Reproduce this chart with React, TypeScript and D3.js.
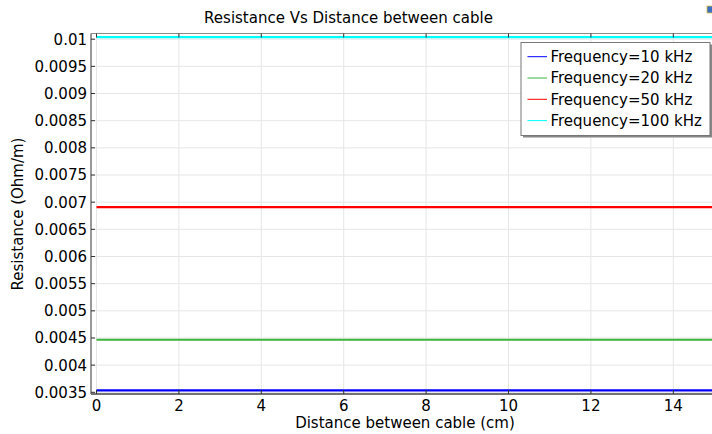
import React from "react";
import * as d3 from "d3";

const distance = [0, 1, 2, 3, 4, 5, 6, 7, 8, 9, 10, 11, 12, 13, 14, 15];
const r10k = [0.003537, 0.003537, 0.003537, 0.003537, 0.003537, 0.003537, 0.003537, 0.003537, 0.003537, 0.003537, 0.003537, 0.003537, 0.003537, 0.003537, 0.003537, 0.003537];
const r20k = [0.004468, 0.004468, 0.004468, 0.004468, 0.004468, 0.004468, 0.004468, 0.004468, 0.004468, 0.004468, 0.004468, 0.004468, 0.004468, 0.004468, 0.004468, 0.004468];
const r50k = [0.006909, 0.006909, 0.006909, 0.006909, 0.006909, 0.006909, 0.006909, 0.006909, 0.006909, 0.006909, 0.006909, 0.006909, 0.006909, 0.006909, 0.006909, 0.006909];
const r100k = [0.01004, 0.01004, 0.01004, 0.01004, 0.01004, 0.01004, 0.01004, 0.01004, 0.01004, 0.01004, 0.01004, 0.01004, 0.01004, 0.01004, 0.01004, 0.01004];
const seriesNames = ["Frequency=10 kHz", "Frequency=20 kHz", "Frequency=50 kHz", "Frequency=100 kHz"];
const seriesColors = ["#0000ff", "#3cb43c", "#ff0000", "#00ffff"];
const xTicks = [0, 2, 4, 6, 8, 10, 12, 14];
const yTicks = [0.0035, 0.004, 0.0045, 0.005, 0.0055, 0.006, 0.0065, 0.007, 0.0075, 0.008, 0.0085, 0.009, 0.0095, 0.01];
const title = "Resistance Vs Distance between cable";
const xLabel = "Distance between cable (cm)";
const yLabel = "Resistance (Ohm/m)";

const W = 712, H = 434;
const L = 91, R = 720, T = 33.5, B = 394;
const FONT = "DejaVu Sans, sans-serif";

export default function App() {
  const x = d3.scaleLinear().domain([-0.1335, 15.133]).range([L, R]);
  const y = d3.scaleLinear().domain([0.003469, 0.010105]).range([B, T]);
  const series = [r10k, r20k, r50k, r100k];
  const line = d3.line<number>().x((_, i) => x(distance[i])).y((d) => y(d));
  const fmt = (v: number) => String(+v.toPrecision(4));
  return (
    <svg width={W} height={H} style={{ position: "absolute", left: 0, top: 0, background: "#fff" }} fontFamily={FONT}>
      <rect x={0} y={0} width={W} height={H} fill="#fff" />
      <defs>
        <clipPath id="plot"><rect x={L} y={T} width={R - L} height={B - T} /></clipPath>
      </defs>
      {xTicks.map((t) => (
        <line key={"gx" + t} x1={x(t)} x2={x(t)} y1={T} y2={B} stroke="#e6e6e6" strokeWidth={1} />
      ))}
      {yTicks.map((t) => (
        <line key={"gy" + t} x1={L} x2={R} y1={y(t)} y2={y(t)} stroke="#e6e6e6" strokeWidth={1} />
      ))}
      <g clipPath="url(#plot)">
        {series.map((s, i) => (
          <path key={i} d={line(s) || ""} fill="none" stroke={seriesColors[i]} strokeWidth={2.2} />
        ))}
      </g>
      <line x1={L} x2={R} y1={T} y2={T} stroke="#8c8c8c" strokeWidth={1.2} />
      <line x1={L} x2={R} y1={B} y2={B} stroke="#444" strokeWidth={1.3} />
      <line x1={L} x2={L} y1={T} y2={B} stroke="#777" strokeWidth={1.5} />
      {xTicks.map((t) => (
        <g key={"tx" + t}>
          <line x1={x(t)} x2={x(t)} y1={B} y2={B - 4} stroke="#333" strokeWidth={1} />
          <line x1={x(t)} x2={x(t)} y1={T} y2={T + 4} stroke="#333" strokeWidth={1} />
          <text x={x(t)} y={411.3} textAnchor="middle" fontSize={15} fill="#000">{t}</text>
        </g>
      ))}
      {yTicks.map((t) => (
        <g key={"ty" + t}>
          <line x1={L} x2={L + 4} y1={y(t)} y2={y(t)} stroke="#333" strokeWidth={1} />
          <text x={L - 4} y={y(t)} dy="0.36em" textAnchor="end" fontSize={15} fill="#000">{fmt(t)}</text>
        </g>
      ))}
      <text x={348.5} y={22.5} textAnchor="middle" fontSize={15} fill="#000">{title}</text>
      <text x={405} y={427.8} textAnchor="middle" fontSize={15} fill="#000">{xLabel}</text>
      <text transform={`translate(23,214) rotate(-90)`} textAnchor="middle" fontSize={15} fill="#000">{yLabel}</text>
      <rect x={523} y={44.5} width={189} height={93} fill="#888" />
      <rect x={521} y={42.5} width={189} height={93} fill="#fff" stroke="#777" strokeWidth={1} />
      {seriesNames.map((n, i) => (
        <g key={n}>
          <line x1={527.5} x2={547} y1={56.7 + i * 21.3} y2={56.7 + i * 21.3} stroke={seriesColors[i]} strokeWidth={1} />
          <text x={550.5} y={56.7 + i * 21.3} dy="0.36em" fontSize={15} fill="#000">{n}</text>
        </g>
      ))}
      <rect x={707} y={6} width={6} height={7} fill="#3a6fc4" stroke="#e0c040" strokeWidth={0.8} />
    </svg>
  );
}
